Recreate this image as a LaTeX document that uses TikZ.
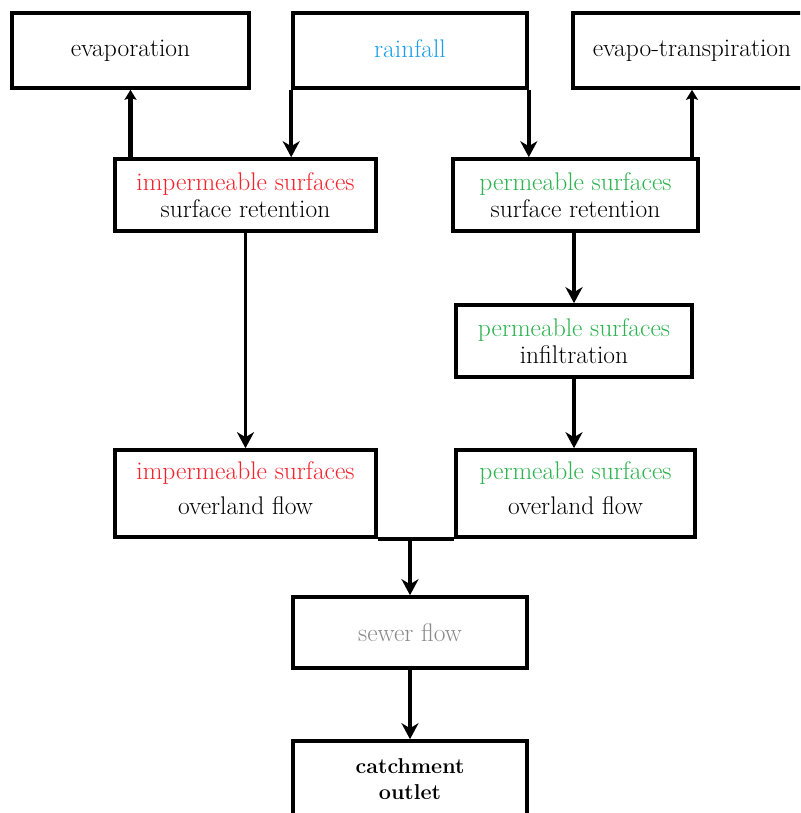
\documentclass[tikz,border=0pt]{standalone}
\usetikzlibrary{arrows.meta}
\definecolor{impred}{HTML}{F5222D}
\definecolor{permgreen}{HTML}{2DB34F}
\definecolor{rainblue}{HTML}{1C9EEA}
\definecolor{sewergrey}{HTML}{8A8A8A}
\begin{document}
\begin{tikzpicture}[x=1pt,y=-1pt,
  box/.style={draw, line width=3.6pt, inner sep=0pt, minimum height=72pt, align=center,
    font=\fontsize{25.5}{27}\selectfont},
  toptext/.style={text depth=4pt},
  arr/.style={line width=3.5pt, -{Stealth[length=16pt,width=17pt,inset=5pt]}},
  uparr/.style={line width=4.5pt, -{Stealth[length=10pt,width=12pt,inset=2pt]}},
  plain/.style={line width=3.6pt}]
\clip (0,0) rectangle (800,813);
\fill[white] (0,0) rectangle (800,813);

\node[box, toptext, minimum width=237pt, minimum height=75pt] (evap) at (130.5,50.5) {evaporation};
\node[box, toptext, minimum width=234pt, minimum height=75pt, text=rainblue] (rain) at (410,50.5) {rainfall};
\node[box, toptext, minimum width=238pt, minimum height=75pt] (evapot) at (692,50.5) {evapo-transpiration};

\node[box, minimum width=261pt] (impret) at (245.5,195) {\textcolor{impred}{impermeable surfaces}\\surface retention};
\node[box, minimum width=245pt] (permret) at (575.5,195) {\textcolor{permgreen}{permeable surfaces}\\surface retention};
\node[box, minimum width=236pt] (infil) at (574,341) {\textcolor{permgreen}{permeable surfaces}\\infiltration};

\node[box, minimum width=261pt, minimum height=87pt, font=\fontsize{25.5}{35}\selectfont] (impover) at (245.5,493.5) {\textcolor{impred}{impermeable surfaces}\\overland flow\\[-25pt]\mbox{}};
\node[box, minimum width=239pt, minimum height=87pt, font=\fontsize{25.5}{35}\selectfont] (permover) at (575.5,493.5) {\textcolor{permgreen}{permeable surfaces}\\overland flow\\[-25pt]\mbox{}};

\node[box, minimum width=234pt, minimum height=71pt, text=sewergrey] (sewer) at (410,632.5) {sewer flow};
\node[box, minimum width=234pt, minimum height=76pt, font=\bfseries\fontsize{21.5}{26}\selectfont] (outlet) at (410,779) {catchment\\outlet};

\draw[uparr] (evap.south |- impret.north) -- (evap.south);
\draw[arr] (rain.south west) -- (rain.south west |- impret.north);
\draw[arr] (rain.south east) -- (rain.south east |- permret.north);
\draw[uparr] (evapot.south |- permret.north) -- (evapot.south);
\draw[arr] (impret.south) -- (impover.north);
\draw[arr] (infil.north |- permret.south) -- (infil.north);
\draw[arr] (infil.south) -- (infil.south |- permover.north);
\draw[plain] (impover.south east) -- (permover.south west);
\draw[arr] (sewer.north |- impover.south) -- (sewer.north);
\draw[arr] (sewer.south) -- (outlet.north);
\end{tikzpicture}
\end{document}
